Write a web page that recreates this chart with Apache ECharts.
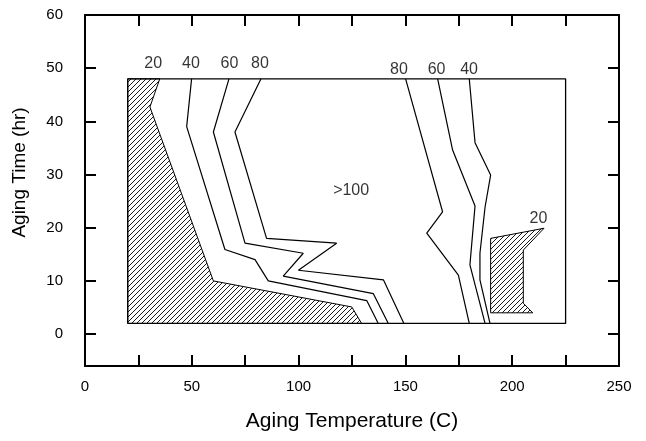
<!DOCTYPE html>
<html>
<head>
<meta charset="utf-8">
<script src="https://cdn.jsdelivr.net/npm/echarts@6/dist/echarts.min.js"></script>
<style>
  html, body { margin: 0; padding: 0; background: #fff; }
  #chart { width: 646px; height: 441px; }
</style>
</head>
<body>
<div id="chart"></div>
<script>
// Aging map: hardness contours over aging temperature (C) and aging time (hr)
const studyBox = [[20, 2], [225, 2], [225, 48], [20, 48], [20, 2]];

// Shaded regions below the 20 contour
const below20Left = [[20, 48], [35, 48], [30.4, 42.7], [60.1, 10], [124.9, 5.1], [129.5, 2], [20, 2]];
const below20Right = [[189.9, 18], [214.9, 19.9], [205.2, 15.8], [205.2, 5.8], [209.6, 4], [189.9, 4]];

// Contour lines, low-temperature side
const c40Left = [[49.9, 48], [47.6, 39], [65.5, 15.9], [79.6, 14], [85.8, 10], [131.9, 6.3], [137.3, 2]];
const c60Left = [[67.4, 48], [60.1, 38], [74.9, 17.1], [102.2, 15.2], [92.8, 10.9], [135, 7.6], [142, 2]];
const c80Left = [[82.4, 48], [70.2, 38], [85, 18], [117.8, 17.1], [99.9, 12], [139.7, 10.2], [149.3, 2]];

// Contour lines, high-temperature side
const c80Right = [[150.1, 48], [167.4, 23], [160, 19], [174.8, 11.1], [179.9, 2]];
const c60Right = [[165.1, 48], [172.1, 34.6], [182.6, 24.1], [180.2, 13], [187.3, 2]];
const c40Right = [[179.9, 48], [182.6, 36], [189.9, 29.9], [187.3, 23.9], [184.9, 15.2], [184.9, 10.2], [189.6, 2]];

// Contour level labels
const labelX = [31.9, 49.6, 67.6, 81.9, 147.0, 164.6, 179.8, 124.6, 212.3];
const labelY = [50.9, 50.9, 50.9, 50.9, 49.8, 49.8, 49.8, 27.0, 21.8];
const labelText = ['20', '40', '60', '80', '80', '60', '40', '>100', '20'];

const FONT = 'Liberation Sans, Arial, Helvetica, sans-serif';

function makeHatch() {
  const c = document.createElement('canvas');
  const s = 5;
  c.width = s; c.height = s;
  const g = c.getContext('2d');
  g.strokeStyle = '#000';
  g.lineWidth = 0.9;
  g.beginPath();
  g.moveTo(0, s); g.lineTo(s, 0);
  g.moveTo(-1, 1); g.lineTo(1, -1);
  g.moveTo(s - 1, s + 1); g.lineTo(s + 1, s - 1);
  g.stroke();
  return c;
}
const hatch = makeHatch();

function hatchedRegion(points) {
  return {
    type: 'custom',
    silent: true,
    z: 2,
    data: [points[0]],
    renderItem: (params, api) => ({
      type: 'polygon',
      shape: { points: points.map(p => api.coord(p)) },
      style: { fill: { image: hatch, repeat: 'repeat' }, stroke: '#000', lineWidth: 1 }
    })
  };
}

function contour(points, width) {
  return {
    type: 'line',
    data: points,
    symbol: 'none',
    silent: true,
    z: 3,
    lineStyle: { color: '#000', width: width || 1.2 },
    clip: false
  };
}

const axisCommon = {
  type: 'value',
  axisLine: { show: true, onZero: false, lineStyle: { color: '#000', width: 2 } },
  axisTick: { show: true, inside: true, length: 11, lineStyle: { color: '#000', width: 2 } },
  splitLine: { show: false }
};

const option = {
  animation: false,
  backgroundColor: '#fff',
  textStyle: { fontFamily: FONT, color: '#000' },
  grid: { left: 85, right: 27, top: 15, bottom: 75 },
  xAxis: [
    Object.assign({}, axisCommon, {
      position: 'bottom', min: 0, max: 250, interval: 25,
      axisLabel: { formatter: v => (v % 50 === 0 ? String(v) : ''), fontSize: 15, color: '#000', margin: 13, fontFamily: FONT },
      name: 'Aging Temperature (C)', nameLocation: 'middle', nameGap: 45,
      nameTextStyle: { fontSize: 21, color: '#000', fontFamily: FONT }
    }),
    Object.assign({}, axisCommon, {
      position: 'top', min: 0, max: 250, interval: 25,
      axisLabel: { show: false }
    })
  ],
  yAxis: [
    Object.assign({}, axisCommon, {
      position: 'left', min: -6, max: 60, splitNumber: 6,
      axisLabel: { formatter: v => (v < 0 ? '' : String(v)), showMinLabel: false, fontSize: 15, color: '#000', margin: 22, fontFamily: FONT },
      name: 'Aging Time (hr)', nameLocation: 'middle', nameGap: 56, nameRotate: 90,
      nameTextStyle: { fontSize: 19, color: '#000', fontFamily: FONT, padding: [0, 0, 0, 36] }
    }),
    Object.assign({}, axisCommon, {
      position: 'right', min: -6, max: 60, splitNumber: 6,
      axisLabel: { show: false }
    })
  ],
  series: [
    hatchedRegion(below20Left),
    hatchedRegion(below20Right),
    contour(studyBox, 1.3),
    contour(c40Left), contour(c60Left), contour(c80Left),
    contour(c80Right), contour(c60Right), contour(c40Right),
    {
      type: 'scatter',
      silent: true,
      z: 4,
      symbolSize: 1,
      itemStyle: { color: 'rgba(0,0,0,0)' },
      data: labelX.map((x, i) => [x, labelY[i], labelText[i]]),
      label: {
        show: true, position: 'inside',
        formatter: p => p.data[2],
        fontSize: 16, color: '#000', fontFamily: FONT
      }
    }
  ]
};

const chart = echarts.init(document.getElementById('chart'), null, { renderer: 'canvas' });
chart.setOption(option);
</script>
</body>
</html>
